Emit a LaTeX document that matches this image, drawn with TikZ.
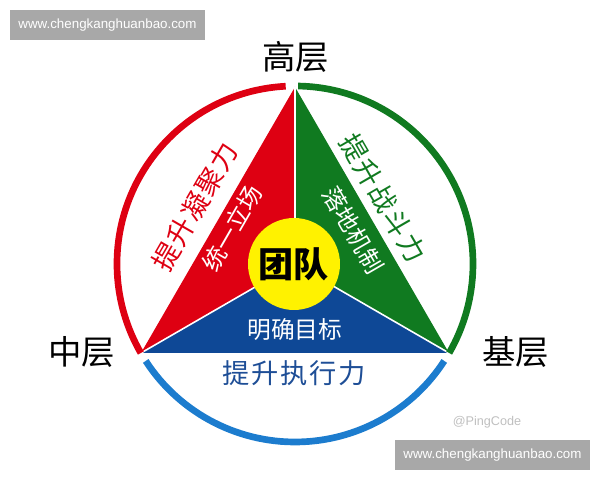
\documentclass[tikz,border=0pt]{standalone}
\usepackage{fontspec}
\setmainfont{Liberation Sans}
\newfontfamily\cjk{Noto Sans CJK SC}

\definecolor{teamred}{RGB}{222,0,18}
\definecolor{teamgreen}{RGB}{16,122,32}
\definecolor{teamblue}{RGB}{14,72,150}
\definecolor{ringblue}{RGB}{28,124,206}
\definecolor{textblue}{RGB}{30,78,150}
\definecolor{coreyellow}{RGB}{255,242,0}
\definecolor{markgray}{RGB}{168,168,168}

\tikzset{
  ring/.style={line width=3.8pt},
  split/.style={draw=white,line width=0.9pt},
  levellabel/.style={font=\cjk\fontsize{19}{19}\selectfont,text=black},
  sidelabel/.style={font=\cjk\fontsize{15.5}{16}\selectfont\addfontfeatures{LetterSpace=6}},
  innerlabel/.style={font=\cjk\fontsize{13.5}{14}\selectfont,text=white},
  marktext/.style={text=white,font=\fontsize{7.6}{8}\selectfont}
}

\begin{document}
\begin{tikzpicture}[x=0.02cm,y=0.02cm]
\useasboundingbox (0,0) rectangle (600,480);

% corners of the triangle and its centre
\coordinate (O) at (295,216);
\coordinate (T) at (295,393);
\coordinate (L) at (141,127);
\coordinate (R) at (449,127);

% Drawing the three parts
\fill[teamred] (T) -- (L) -- (O) -- cycle;
\fill[teamgreen] (T) -- (R) -- (O) -- cycle;
\fill[teamblue] (L) -- (R) -- (O) -- cycle;
\draw[split] (O) -- (T);
\draw[split] (O) -- (L);
\draw[split] (O) -- (R);

% Drawing the outer ring
\draw[ring,teamred] (O) ++(93:178) arc (93:210:178);
\draw[ring,teamgreen] (O) ++(89:178) arc (89:-30:178);
\draw[ring,ringblue] (O) ++(213:178) arc (213:327:178);

% Marking the core
\fill[coreyellow] (294,216) circle (46);
\node (team) at (294,216) {\cjk\bfseries\fontsize{20}{20}\selectfont 团队};

% Marking the levels
\node[levellabel] (top) at (296,423) {高层};
\node[levellabel] (mid) at (82,128) {中层};
\node[levellabel] (base) at (516,128) {基层};

% Marking the sides
\node[sidelabel,text=teamred,rotate=60] (cohesion) at (195,273) {提升凝聚力};
\node[innerlabel,rotate=60] (stance) at (232,252) {统一立场};
\node[sidelabel,text=teamgreen,rotate=-60] (fight) at (383,282) {提升战斗力};
\node[innerlabel,rotate=-60] (mechanism) at (353,250) {落地机制};
\node[innerlabel] (goal) at (295,150) {明确目标};
\node[sidelabel,text=textblue] (execute) at (294,107) {提升执行力};

% Marking the watermarks
\fill[markgray] (10,440) rectangle (205,470);
\node[marktext] (marktop) at (107.5,455) {www.chengkanghuanbao.com};
\fill[markgray] (395,10) rectangle (590,40);
\node[marktext] (markbottom) at (492.5,25) {www.chengkanghuanbao.com};
\node[text=black!25,font=\fontsize{7.2}{8}\selectfont] (pingcode) at (487,58) {@PingCode};
\end{tikzpicture}
\end{document}
